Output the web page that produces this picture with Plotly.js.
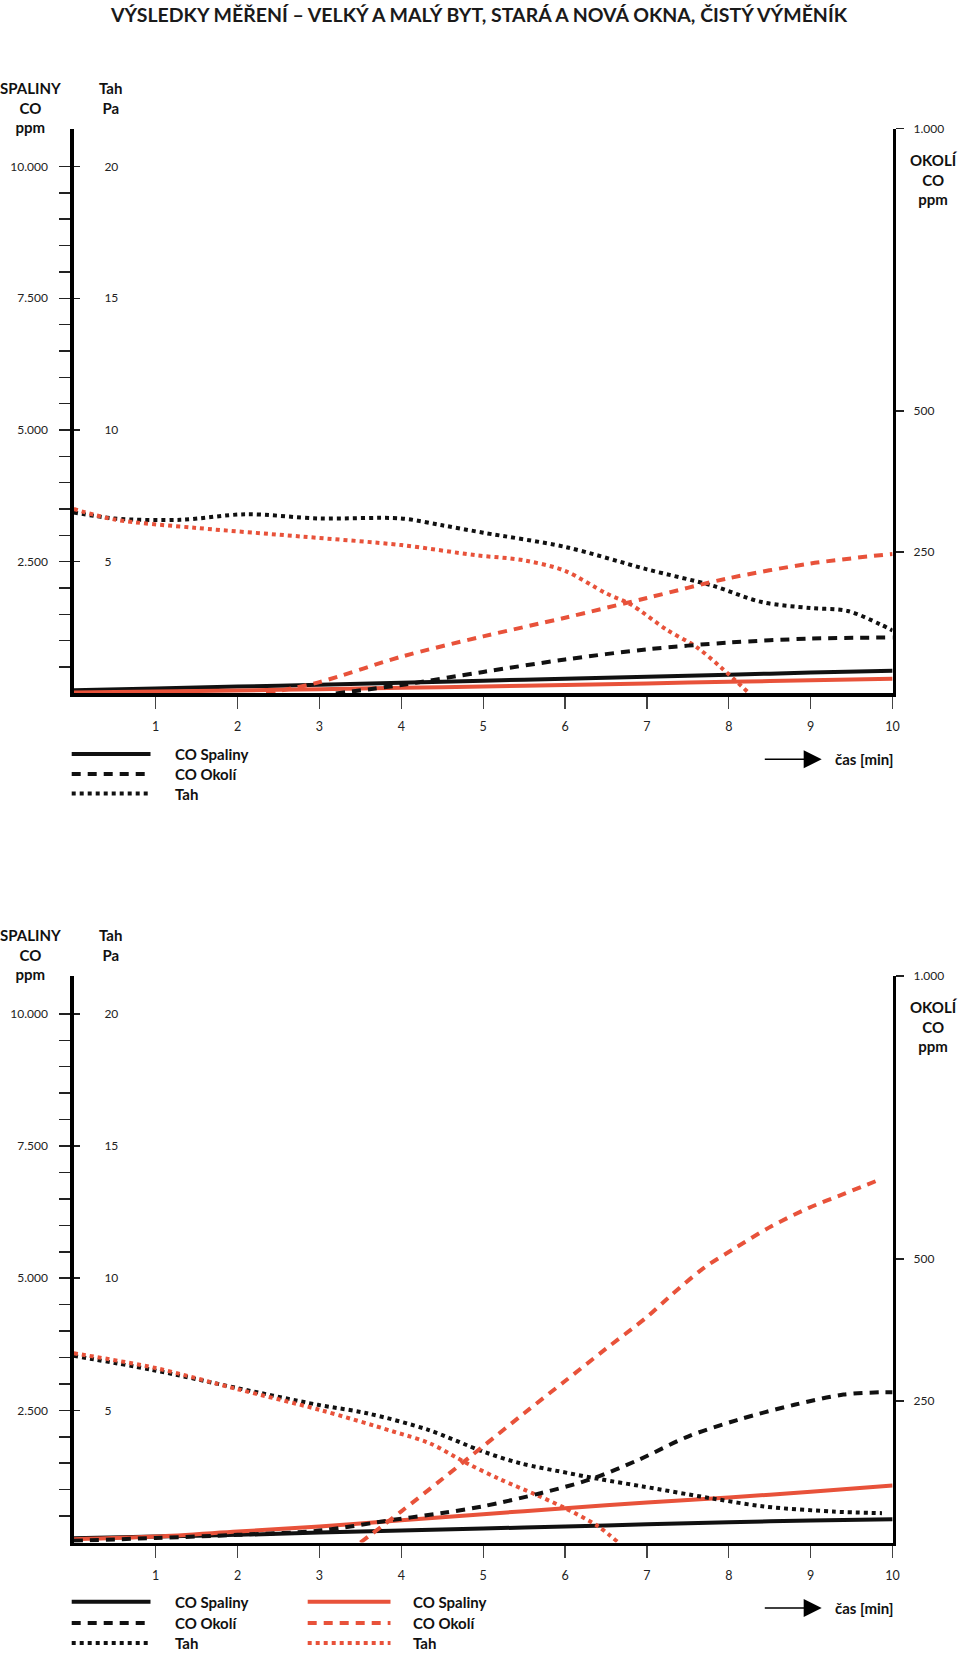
<!DOCTYPE html>
<html>
<head>
<meta charset="utf-8">
<script src="https://cdn.plot.ly/plotly-3.0.1.min.js"></script>
<style>html,body{margin:0;padding:0;background:#fff;}#chart{width:960px;height:1653px;}</style>
</head>
<body>
<div id="chart"></div>
<script>
// ---------- DATA ----------
const chartTitle = "VÝSLEDKY MĚŘENÍ – VELKÝ A MALÝ BYT, STARÁ A NOVÁ OKNA, ČISTÝ VÝMĚNÍK";
const timeTicks = [1,2,3,4,5,6,7,8,9,10];
const spalinyTickVals = [500,1000,1500,2000,2500,3000,3500,4000,4500,5000,5500,6000,6500,7000,7500,8000,8500,9000,9500,10000];
const spalinyTickText = ["","","","","2.500","","","","","5.000","","","","","7.500","","","","","10.000"];
const tahTickVals = [5,10,15,20];
const okoliTickVals = [250,500,1000];
const okoliTickText = ["250","500","1.000"];

// Chart 1 (top)
const c1SpalBlackT = [0,1,2,3,4,5,6,7,8,9,10];
const c1SpalBlackV = [60,95,130,165,200,240,280,315,355,395,430];
const c1SpalRedT   = [0,1,2,3,4,5,6,7,8,9,10];
const c1SpalRedV   = [15,35,55,80,105,130,160,190,220,250,280];
const c1OkoliBlackT = [3.2,4,5,6,7,8,9,10];
const c1OkoliBlackV = [0,15,38,60,78,90,97,99];
const c1OkoliRedT   = [2.35,3,4,5,6,7,8,9,10];
const c1OkoliRedV   = [0,20,65,101,134,169,204,230,247];
const c1TahBlackT = [0,0.5,1.3,2.1,3,4,4.5,5,6,7,7.8,8.4,9,9.45,9.85,10];
const c1TahBlackV = [6.87,6.64,6.59,6.8,6.64,6.64,6.38,6.1,5.56,4.71,4.09,3.47,3.24,3.13,2.62,2.39];
const c1TahRedT = [0,0.5,1.5,2.8,4,4.9,5.5,6,6.5,6.8,7.25,7.6,7.9,8.25];
const c1TahRedV = [7.0,6.6,6.28,5.95,5.63,5.25,5.05,4.65,3.8,3.38,2.4,1.77,1.0,0];

// Chart 2 (bottom)
const c2SpalBlackT = [0,1,2,3,4,5,6,7,8,9,10];
const c2SpalBlackV = [80,112,145,187,227,265,303,345,385,415,440];
const c2SpalRedT   = [0,1,2,3,4,5,6,7,8,9,10];
const c2SpalRedV   = [63,113,208,303,420,536,649,757,851,960,1080];
const c2OkoliBlackT = [0,1,2,3,3.9,4.5,5,5.7,6.3,6.9,7.5,8.1,8.8,9.4,9.85,10];
const c2OkoliBlackV = [3,8,13.5,21,40,52,64,87,111,146,187,216,243,261,265,265];
const c2OkoliRedT   = [3.5,4,4.5,5,5.5,6,6.5,7,7.3,7.7,8.07,8.52,8.97,9.42,9.87];
const c2OkoliRedV   = [0,55,112,170,228,285,342,398,437,485,519,558,590,616,642];
const c2TahBlackT = [0,0.96,2.0,2.98,3.58,4.33,5.0,5.45,6.05,6.42,6.95,7.77,8.44,9.27,9.87];
const c2TahBlackV = [7.06,6.53,5.84,5.21,4.89,4.26,3.44,3.0,2.62,2.4,2.12,1.68,1.36,1.17,1.11];
const c2TahRedT = [0,1,2,3,3.9,4.35,4.8,5.2,5.65,6.0,6.4,6.65];
const c2TahRedV = [7.16,6.6,5.8,5.02,4.2,3.75,3.0,2.4,1.8,1.3,0.62,0];

const legendLabels = ["CO Spaliny","CO Okolí","Tah"];
const timeLabel = "čas [min]";

// ---------- STYLE ----------
const W = 960, H = 1653;
const BLACK = "#111111", RED = "#E8523A";
const FONT = "Lato, 'Open Sans', sans-serif";
const DASH = "9px,7px", DOT = "4px,4px";
const LW = 4;
function px(x){ return x / W; }
function py(y){ return 1 - y / H; }

const xDom = [px(73.8), px(892.6)];
const y1Dom = [py(693.4), py(128.6)];
const y2Dom = [py(1542.5), py(975.8)];
const SP_MAX = 10720, TAH_MAX = SP_MAX / 500, OK_MAX = 1000;

function line(x, y, xa, ya, color, dash){
  return {type:"scatter", mode:"lines", x:x, y:y, xaxis:xa, yaxis:ya,
          line:{color:color, width:LW, dash:dash, shape:"spline", smoothing:0.9},
          hoverinfo:"skip", showlegend:false};
}

const traces = [
  line(c1SpalBlackT, c1SpalBlackV, "x", "y", BLACK, "solid"),
  line(c1OkoliBlackT, c1OkoliBlackV, "x", "y3", BLACK, DASH),
  line(c1TahBlackT, c1TahBlackV, "x", "y2", BLACK, DOT),
  line(c1SpalRedT, c1SpalRedV, "x", "y", RED, "solid"),
  line(c1OkoliRedT, c1OkoliRedV, "x", "y3", RED, DASH),
  line(c1TahRedT, c1TahRedV, "x", "y2", RED, DOT),

  line(c2SpalBlackT, c2SpalBlackV, "x2", "y5", BLACK, "solid"),
  line(c2OkoliBlackT, c2OkoliBlackV, "x2", "y7", BLACK, DASH),
  line(c2TahBlackT, c2TahBlackV, "x2", "y6", BLACK, DOT),
  line(c2SpalRedT, c2SpalRedV, "x2", "y5", RED, "solid"),
  line(c2OkoliRedT, c2OkoliRedV, "x2", "y7", RED, DASH),
  line(c2TahRedT, c2TahRedV, "x2", "y6", RED, DOT)
];

const tickFont = {family:FONT, size:12, color:"#222"};
const xTickFont = {family:FONT, size:12.5, color:"#222"};

function xAxis(anchor){
  return {domain:xDom, anchor:anchor, range:[0,10], tickmode:"array", tickvals:timeTicks,
          ticktext:timeTicks.map(String), ticks:"outside", ticklen:12, tickwidth:1.2, tickcolor:"#444",
          ticklabelstandoff:7, showline:true, linewidth:3.5, linecolor:"#000",
          showgrid:false, zeroline:false, tickfont:xTickFont, fixedrange:true};
}
function leftAxis(dom, xa){
  return {domain:dom, anchor:xa, range:[0,SP_MAX], tickmode:"array", tickvals:spalinyTickVals,
          ticktext:spalinyTickText, ticks:"outside", ticklen:11, tickwidth:1.5, tickcolor:"#222",
          ticklabelstandoff:9, showline:true, linewidth:3.5, linecolor:"#000", showgrid:false,
          zeroline:false, tickfont:tickFont, fixedrange:true};
}
function tahAxis(over, xa){
  return {overlaying:over, anchor:xa, side:"left", range:[0,TAH_MAX], tickmode:"array",
          tickvals:tahTickVals, ticktext:tahTickVals.map(String), ticks:"inside", ticklen:6,
          tickwidth:1.5, tickcolor:"#222", ticklabelposition:"inside", ticklabelstandoff:24,
          showline:false, showgrid:false, zeroline:false, tickfont:tickFont, fixedrange:true};
}
function rightAxis(over, xa){
  return {overlaying:over, anchor:xa, side:"right", range:[0,OK_MAX], tickmode:"array",
          tickvals:okoliTickVals, ticktext:okoliTickText, ticks:"outside", ticklen:8, tickwidth:1.5,
          tickcolor:"#222", ticklabelstandoff:7, showline:true, linewidth:3.5, linecolor:"#000",
          showgrid:false, zeroline:false, tickfont:tickFont, fixedrange:true};
}
function rightStub(over, xa){
  return {overlaying:over, anchor:xa, side:"right", range:[0,OK_MAX], tickmode:"array",
          tickvals:okoliTickVals, ticks:"inside", ticklen:7, tickwidth:1.5, tickcolor:"#222",
          showticklabels:false, showline:false, showgrid:false, zeroline:false, fixedrange:true};
}

const boldFont = {family:FONT, size:15, color:"#111", weight:700};
const annotations = [];
const shapes = [];
function label(text, x, y, anchor){
  annotations.push({text:text, x:px(x), y:py(y), xref:"paper", yref:"paper", xanchor:anchor||"center",
                    yanchor:"middle", showarrow:false, font:boldFont, align:"center"});
}
// axis headers
[0, 847.3].forEach(function(dy){
  label("SPALINY<br>CO<br>ppm", 30.8, 107.5 + dy);
  label("Tah<br>Pa", 110, 97.5 + dy);
  label("OKOLÍ<br>CO<br>ppm", 933.5, 179.5 + dy);
});

function legendBlock(x0, x1, textX, ys, color){
  const dashes = ["solid", DASH, DOT];
  ys.forEach(function(y, i){
    shapes.push({type:"line", xref:"paper", yref:"paper", x0:px(x0), x1:px(x1), y0:py(y), y1:py(y),
                 line:{color:color, width:LW, dash:dashes[i]}});
    label(legendLabels[i], textX, y, "left");
  });
}
legendBlock(71.7, 150.5, 172.7, [754, 774, 793.5], BLACK);
legendBlock(71.7, 150.5, 172.7, [1601.7, 1623, 1643], BLACK);
legendBlock(307.7, 390.5, 410.5, [1601.7, 1623, 1643], RED);

function timeArrow(y){
  annotations.push({text:"", x:px(821.7), y:py(y), ax:px(763.3), ay:py(y), xref:"paper", yref:"paper",
                    axref:"paper", ayref:"paper", showarrow:true, arrowhead:2, arrowsize:2.4,
                    arrowwidth:1.5, arrowcolor:"#000", standoff:0});
  label(timeLabel, 832.7, y, "left");
}
timeArrow(759.3);
timeArrow(1608);

const layout = {
  width:W, height:H, margin:{l:0, r:0, t:0, b:0}, paper_bgcolor:"#fff", plot_bgcolor:"rgba(0,0,0,0)",
  showlegend:false,
  title:{text:chartTitle, x:0.499, xanchor:"center", y:py(15), yanchor:"middle", yref:"paper",
         font:{family:FONT, size:19.5, color:"#1a1a1a", weight:700}},
  xaxis:xAxis("y"),
  yaxis:leftAxis(y1Dom, "x"),
  yaxis2:tahAxis("y", "x"),
  yaxis3:rightAxis("y", "x"),
  yaxis4:rightStub("y", "x"),
  xaxis2:xAxis("y5"),
  yaxis5:leftAxis(y2Dom, "x2"),
  yaxis6:tahAxis("y5", "x2"),
  yaxis7:rightAxis("y5", "x2"),
  yaxis8:rightStub("y5", "x2"),
  annotations:annotations,
  shapes:shapes
};

Plotly.newPlot("chart", traces, layout, {staticPlot:true, displayModeBar:false});
</script>
</body>
</html>
